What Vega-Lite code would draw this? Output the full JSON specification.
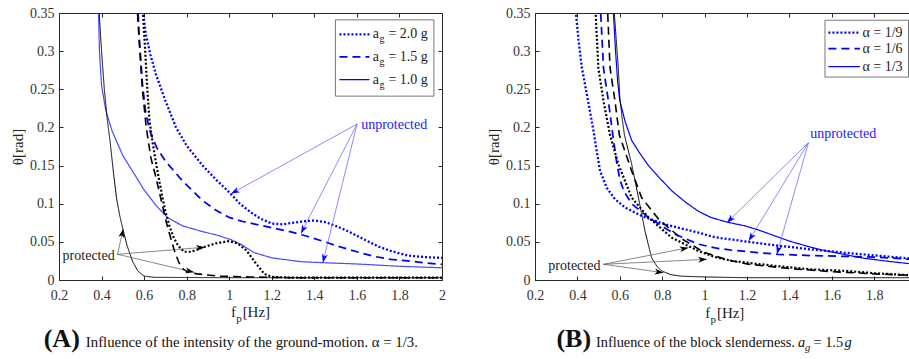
{
  "$schema": "https://vega.github.io/schema/vega-lite/v6.json",
  "padding": {"left": 10, "top": 6, "right": 0, "bottom": 0},
  "spacing": 40,
  "config": {
    "font": "Liberation Serif",
    "view": {"stroke": null},
    "text": {"font": "Liberation Serif"},
    "axis": {
      "labelFont": "Liberation Serif", "labelFontSize": 14, "labelColor": "#333333",
      "titleFont": "Liberation Serif", "titleFontSize": 15, "titleFontWeight": "normal", "titleColor": "#222222",
      "domainColor": "#262626", "tickColor": "#262626", "domainWidth": 1, "tickWidth": 1,
      "tickSize": -4, "grid": false, "labelFlush": false, "labelOverlap": false
    }
  },
  "datasets": {
    "curvesA": [
      {"f":0.588,"theta":0.40,"series":"2.0 g","state":"unprotected"},
      {"f":0.595,"theta":0.35,"series":"2.0 g","state":"unprotected"},
      {"f":0.608,"theta":0.322,"series":"2.0 g","state":"unprotected"},
      {"f":0.63,"theta":0.295,"series":"2.0 g","state":"unprotected"},
      {"f":0.655,"theta":0.27,"series":"2.0 g","state":"unprotected"},
      {"f":0.70,"theta":0.235,"series":"2.0 g","state":"unprotected"},
      {"f":0.75,"theta":0.20,"series":"2.0 g","state":"unprotected"},
      {"f":0.80,"theta":0.176,"series":"2.0 g","state":"unprotected"},
      {"f":0.875,"theta":0.150,"series":"2.0 g","state":"unprotected"},
      {"f":0.94,"theta":0.131,"series":"2.0 g","state":"unprotected"},
      {"f":1.0,"theta":0.115,"series":"2.0 g","state":"unprotected"},
      {"f":1.05,"theta":0.100,"series":"2.0 g","state":"unprotected"},
      {"f":1.1,"theta":0.089,"series":"2.0 g","state":"unprotected"},
      {"f":1.15,"theta":0.080,"series":"2.0 g","state":"unprotected"},
      {"f":1.2,"theta":0.074,"series":"2.0 g","state":"unprotected"},
      {"f":1.25,"theta":0.073,"series":"2.0 g","state":"unprotected"},
      {"f":1.3,"theta":0.075,"series":"2.0 g","state":"unprotected"},
      {"f":1.35,"theta":0.077,"series":"2.0 g","state":"unprotected"},
      {"f":1.4,"theta":0.078,"series":"2.0 g","state":"unprotected"},
      {"f":1.45,"theta":0.076,"series":"2.0 g","state":"unprotected"},
      {"f":1.5,"theta":0.071,"series":"2.0 g","state":"unprotected"},
      {"f":1.55,"theta":0.065,"series":"2.0 g","state":"unprotected"},
      {"f":1.6,"theta":0.058,"series":"2.0 g","state":"unprotected"},
      {"f":1.65,"theta":0.051,"series":"2.0 g","state":"unprotected"},
      {"f":1.7,"theta":0.044,"series":"2.0 g","state":"unprotected"},
      {"f":1.76,"theta":0.038,"series":"2.0 g","state":"unprotected"},
      {"f":1.84,"theta":0.032,"series":"2.0 g","state":"unprotected"},
      {"f":1.92,"theta":0.030,"series":"2.0 g","state":"unprotected"},
      {"f":2.0,"theta":0.029,"series":"2.0 g","state":"unprotected"},

      {"f":0.568,"theta":0.40,"series":"1.5 g","state":"unprotected"},
      {"f":0.572,"theta":0.35,"series":"1.5 g","state":"unprotected"},
      {"f":0.576,"theta":0.322,"series":"1.5 g","state":"unprotected"},
      {"f":0.584,"theta":0.29,"series":"1.5 g","state":"unprotected"},
      {"f":0.592,"theta":0.257,"series":"1.5 g","state":"unprotected"},
      {"f":0.608,"theta":0.218,"series":"1.5 g","state":"unprotected"},
      {"f":0.63,"theta":0.193,"series":"1.5 g","state":"unprotected"},
      {"f":0.66,"theta":0.173,"series":"1.5 g","state":"unprotected"},
      {"f":0.70,"theta":0.156,"series":"1.5 g","state":"unprotected"},
      {"f":0.78,"theta":0.130,"series":"1.5 g","state":"unprotected"},
      {"f":0.875,"theta":0.104,"series":"1.5 g","state":"unprotected"},
      {"f":0.94,"theta":0.091,"series":"1.5 g","state":"unprotected"},
      {"f":1.0,"theta":0.082,"series":"1.5 g","state":"unprotected"},
      {"f":1.06,"theta":0.077,"series":"1.5 g","state":"unprotected"},
      {"f":1.125,"theta":0.073,"series":"1.5 g","state":"unprotected"},
      {"f":1.21,"theta":0.068,"series":"1.5 g","state":"unprotected"},
      {"f":1.29,"theta":0.063,"series":"1.5 g","state":"unprotected"},
      {"f":1.37,"theta":0.057,"series":"1.5 g","state":"unprotected"},
      {"f":1.45,"theta":0.050,"series":"1.5 g","state":"unprotected"},
      {"f":1.525,"theta":0.043,"series":"1.5 g","state":"unprotected"},
      {"f":1.6,"theta":0.037,"series":"1.5 g","state":"unprotected"},
      {"f":1.68,"theta":0.031,"series":"1.5 g","state":"unprotected"},
      {"f":1.76,"theta":0.027,"series":"1.5 g","state":"unprotected"},
      {"f":1.84,"theta":0.025,"series":"1.5 g","state":"unprotected"},
      {"f":1.92,"theta":0.0225,"series":"1.5 g","state":"unprotected"},
      {"f":2.0,"theta":0.0205,"series":"1.5 g","state":"unprotected"},

      {"f":0.383,"theta":0.40,"series":"1.0 g","state":"unprotected"},
      {"f":0.386,"theta":0.35,"series":"1.0 g","state":"unprotected"},
      {"f":0.39,"theta":0.30,"series":"1.0 g","state":"unprotected"},
      {"f":0.40,"theta":0.255,"series":"1.0 g","state":"unprotected"},
      {"f":0.42,"theta":0.222,"series":"1.0 g","state":"unprotected"},
      {"f":0.45,"theta":0.195,"series":"1.0 g","state":"unprotected"},
      {"f":0.50,"theta":0.163,"series":"1.0 g","state":"unprotected"},
      {"f":0.545,"theta":0.143,"series":"1.0 g","state":"unprotected"},
      {"f":0.60,"theta":0.118,"series":"1.0 g","state":"unprotected"},
      {"f":0.655,"theta":0.098,"series":"1.0 g","state":"unprotected"},
      {"f":0.71,"theta":0.082,"series":"1.0 g","state":"unprotected"},
      {"f":0.78,"theta":0.071,"series":"1.0 g","state":"unprotected"},
      {"f":0.867,"theta":0.064,"series":"1.0 g","state":"unprotected"},
      {"f":0.94,"theta":0.059,"series":"1.0 g","state":"unprotected"},
      {"f":1.007,"theta":0.053,"series":"1.0 g","state":"unprotected"},
      {"f":1.06,"theta":0.046,"series":"1.0 g","state":"unprotected"},
      {"f":1.116,"theta":0.036,"series":"1.0 g","state":"unprotected"},
      {"f":1.2,"theta":0.029,"series":"1.0 g","state":"unprotected"},
      {"f":1.337,"theta":0.024,"series":"1.0 g","state":"unprotected"},
      {"f":1.44,"theta":0.0227,"series":"1.0 g","state":"unprotected"},
      {"f":1.6,"theta":0.021,"series":"1.0 g","state":"unprotected"},
      {"f":1.8,"theta":0.018,"series":"1.0 g","state":"unprotected"},
      {"f":2.0,"theta":0.016,"series":"1.0 g","state":"unprotected"},

      {"f":0.592,"theta":0.40,"series":"2.0 g","state":"protected"},
      {"f":0.595,"theta":0.35,"series":"2.0 g","state":"protected"},
      {"f":0.605,"theta":0.30,"series":"2.0 g","state":"protected"},
      {"f":0.615,"theta":0.25,"series":"2.0 g","state":"protected"},
      {"f":0.625,"theta":0.21,"series":"2.0 g","state":"protected"},
      {"f":0.64,"theta":0.18,"series":"2.0 g","state":"protected"},
      {"f":0.655,"theta":0.155,"series":"2.0 g","state":"protected"},
      {"f":0.67,"theta":0.132,"series":"2.0 g","state":"protected"},
      {"f":0.685,"theta":0.11,"series":"2.0 g","state":"protected"},
      {"f":0.70,"theta":0.09,"series":"2.0 g","state":"protected"},
      {"f":0.72,"theta":0.07,"series":"2.0 g","state":"protected"},
      {"f":0.74,"theta":0.055,"series":"2.0 g","state":"protected"},
      {"f":0.76,"theta":0.045,"series":"2.0 g","state":"protected"},
      {"f":0.788,"theta":0.037,"series":"2.0 g","state":"protected"},
      {"f":0.82,"theta":0.037,"series":"2.0 g","state":"protected"},
      {"f":0.85,"theta":0.040,"series":"2.0 g","state":"protected"},
      {"f":0.89,"theta":0.044,"series":"2.0 g","state":"protected"},
      {"f":0.937,"theta":0.048,"series":"2.0 g","state":"protected"},
      {"f":1.0,"theta":0.051,"series":"2.0 g","state":"protected"},
      {"f":1.04,"theta":0.048,"series":"2.0 g","state":"protected"},
      {"f":1.08,"theta":0.039,"series":"2.0 g","state":"protected"},
      {"f":1.125,"theta":0.022,"series":"2.0 g","state":"protected"},
      {"f":1.165,"theta":0.008,"series":"2.0 g","state":"protected"},
      {"f":1.2,"theta":0.004,"series":"2.0 g","state":"protected"},
      {"f":1.3,"theta":0.003,"series":"2.0 g","state":"protected"},
      {"f":2.0,"theta":0.003,"series":"2.0 g","state":"protected"},

      {"f":0.566,"theta":0.40,"series":"1.5 g","state":"protected"},
      {"f":0.569,"theta":0.35,"series":"1.5 g","state":"protected"},
      {"f":0.58,"theta":0.30,"series":"1.5 g","state":"protected"},
      {"f":0.592,"theta":0.25,"series":"1.5 g","state":"protected"},
      {"f":0.61,"theta":0.20,"series":"1.5 g","state":"protected"},
      {"f":0.632,"theta":0.16,"series":"1.5 g","state":"protected"},
      {"f":0.655,"theta":0.135,"series":"1.5 g","state":"protected"},
      {"f":0.68,"theta":0.105,"series":"1.5 g","state":"protected"},
      {"f":0.705,"theta":0.075,"series":"1.5 g","state":"protected"},
      {"f":0.725,"theta":0.055,"series":"1.5 g","state":"protected"},
      {"f":0.745,"theta":0.036,"series":"1.5 g","state":"protected"},
      {"f":0.765,"theta":0.022,"series":"1.5 g","state":"protected"},
      {"f":0.785,"theta":0.014,"series":"1.5 g","state":"protected"},
      {"f":0.81,"theta":0.010,"series":"1.5 g","state":"protected"},
      {"f":0.85,"theta":0.008,"series":"1.5 g","state":"protected"},
      {"f":0.95,"theta":0.005,"series":"1.5 g","state":"protected"},
      {"f":1.1,"theta":0.004,"series":"1.5 g","state":"protected"},
      {"f":1.3,"theta":0.003,"series":"1.5 g","state":"protected"},
      {"f":2.0,"theta":0.003,"series":"1.5 g","state":"protected"},

      {"f":0.385,"theta":0.40,"series":"1.0 g","state":"protected"},
      {"f":0.389,"theta":0.35,"series":"1.0 g","state":"protected"},
      {"f":0.40,"theta":0.30,"series":"1.0 g","state":"protected"},
      {"f":0.413,"theta":0.25,"series":"1.0 g","state":"protected"},
      {"f":0.427,"theta":0.21,"series":"1.0 g","state":"protected"},
      {"f":0.44,"theta":0.182,"series":"1.0 g","state":"protected"},
      {"f":0.455,"theta":0.143,"series":"1.0 g","state":"protected"},
      {"f":0.47,"theta":0.108,"series":"1.0 g","state":"protected"},
      {"f":0.485,"theta":0.085,"series":"1.0 g","state":"protected"},
      {"f":0.50,"theta":0.067,"series":"1.0 g","state":"protected"},
      {"f":0.52,"theta":0.045,"series":"1.0 g","state":"protected"},
      {"f":0.545,"theta":0.025,"series":"1.0 g","state":"protected"},
      {"f":0.57,"theta":0.012,"series":"1.0 g","state":"protected"},
      {"f":0.60,"theta":0.005,"series":"1.0 g","state":"protected"},
      {"f":0.65,"theta":0.0035,"series":"1.0 g","state":"protected"},
      {"f":1.0,"theta":0.003,"series":"1.0 g","state":"protected"},
      {"f":2.0,"theta":0.003,"series":"1.0 g","state":"protected"}
    ],
    "curvesB": [
      {"f":0.39,"theta":0.40,"series":"1/9","state":"unprotected"},
      {"f":0.393,"theta":0.35,"series":"1/9","state":"unprotected"},
      {"f":0.405,"theta":0.315,"series":"1/9","state":"unprotected"},
      {"f":0.42,"theta":0.28,"series":"1/9","state":"unprotected"},
      {"f":0.44,"theta":0.25,"series":"1/9","state":"unprotected"},
      {"f":0.46,"theta":0.22,"series":"1/9","state":"unprotected"},
      {"f":0.475,"theta":0.197,"series":"1/9","state":"unprotected"},
      {"f":0.491,"theta":0.169,"series":"1/9","state":"unprotected"},
      {"f":0.507,"theta":0.143,"series":"1/9","state":"unprotected"},
      {"f":0.538,"theta":0.121,"series":"1/9","state":"unprotected"},
      {"f":0.577,"theta":0.106,"series":"1/9","state":"unprotected"},
      {"f":0.625,"theta":0.095,"series":"1/9","state":"unprotected"},
      {"f":0.703,"theta":0.084,"series":"1/9","state":"unprotected"},
      {"f":0.813,"theta":0.073,"series":"1/9","state":"unprotected"},
      {"f":0.971,"theta":0.062,"series":"1/9","state":"unprotected"},
      {"f":1.05,"theta":0.056,"series":"1/9","state":"unprotected"},
      {"f":1.207,"theta":0.050,"series":"1/9","state":"unprotected"},
      {"f":1.35,"theta":0.045,"series":"1/9","state":"unprotected"},
      {"f":1.505,"theta":0.040,"series":"1/9","state":"unprotected"},
      {"f":1.74,"theta":0.0337,"series":"1/9","state":"unprotected"},
      {"f":1.98,"theta":0.028,"series":"1/9","state":"unprotected"},

      {"f":0.507,"theta":0.40,"series":"1/6","state":"unprotected"},
      {"f":0.51,"theta":0.35,"series":"1/6","state":"unprotected"},
      {"f":0.523,"theta":0.278,"series":"1/6","state":"unprotected"},
      {"f":0.546,"theta":0.235,"series":"1/6","state":"unprotected"},
      {"f":0.57,"theta":0.184,"series":"1/6","state":"unprotected"},
      {"f":0.585,"theta":0.155,"series":"1/6","state":"unprotected"},
      {"f":0.60,"theta":0.132,"series":"1/6","state":"unprotected"},
      {"f":0.62,"theta":0.116,"series":"1/6","state":"unprotected"},
      {"f":0.656,"theta":0.100,"series":"1/6","state":"unprotected"},
      {"f":0.735,"theta":0.082,"series":"1/6","state":"unprotected"},
      {"f":0.86,"theta":0.060,"series":"1/6","state":"unprotected"},
      {"f":0.971,"theta":0.047,"series":"1/6","state":"unprotected"},
      {"f":1.05,"theta":0.042,"series":"1/6","state":"unprotected"},
      {"f":1.13,"theta":0.039,"series":"1/6","state":"unprotected"},
      {"f":1.25,"theta":0.036,"series":"1/6","state":"unprotected"},
      {"f":1.348,"theta":0.0337,"series":"1/6","state":"unprotected"},
      {"f":1.5,"theta":0.032,"series":"1/6","state":"unprotected"},
      {"f":1.66,"theta":0.031,"series":"1/6","state":"unprotected"},
      {"f":1.8,"theta":0.030,"series":"1/6","state":"unprotected"},
      {"f":1.98,"theta":0.027,"series":"1/6","state":"unprotected"},

      {"f":0.567,"theta":0.40,"series":"1/3","state":"unprotected"},
      {"f":0.57,"theta":0.35,"series":"1/3","state":"unprotected"},
      {"f":0.58,"theta":0.30,"series":"1/3","state":"unprotected"},
      {"f":0.59,"theta":0.26,"series":"1/3","state":"unprotected"},
      {"f":0.60,"theta":0.235,"series":"1/3","state":"unprotected"},
      {"f":0.625,"theta":0.208,"series":"1/3","state":"unprotected"},
      {"f":0.656,"theta":0.183,"series":"1/3","state":"unprotected"},
      {"f":0.69,"theta":0.168,"series":"1/3","state":"unprotected"},
      {"f":0.735,"theta":0.150,"series":"1/3","state":"unprotected"},
      {"f":0.79,"theta":0.133,"series":"1/3","state":"unprotected"},
      {"f":0.845,"theta":0.117,"series":"1/3","state":"unprotected"},
      {"f":0.91,"theta":0.102,"series":"1/3","state":"unprotected"},
      {"f":0.971,"theta":0.090,"series":"1/3","state":"unprotected"},
      {"f":1.03,"theta":0.082,"series":"1/3","state":"unprotected"},
      {"f":1.104,"theta":0.076,"series":"1/3","state":"unprotected"},
      {"f":1.19,"theta":0.071,"series":"1/3","state":"unprotected"},
      {"f":1.25,"theta":0.066,"series":"1/3","state":"unprotected"},
      {"f":1.35,"theta":0.056,"series":"1/3","state":"unprotected"},
      {"f":1.4,"theta":0.051,"series":"1/3","state":"unprotected"},
      {"f":1.5,"theta":0.043,"series":"1/3","state":"unprotected"},
      {"f":1.56,"theta":0.039,"series":"1/3","state":"unprotected"},
      {"f":1.65,"theta":0.034,"series":"1/3","state":"unprotected"},
      {"f":1.74,"theta":0.029,"series":"1/3","state":"unprotected"},
      {"f":1.85,"theta":0.025,"series":"1/3","state":"unprotected"},
      {"f":1.98,"theta":0.021,"series":"1/3","state":"unprotected"},

      {"f":0.483,"theta":0.40,"series":"1/9","state":"protected"},
      {"f":0.486,"theta":0.35,"series":"1/9","state":"protected"},
      {"f":0.499,"theta":0.278,"series":"1/9","state":"protected"},
      {"f":0.523,"theta":0.235,"series":"1/9","state":"protected"},
      {"f":0.554,"theta":0.19,"series":"1/9","state":"protected"},
      {"f":0.593,"theta":0.152,"series":"1/9","state":"protected"},
      {"f":0.656,"theta":0.108,"series":"1/9","state":"protected"},
      {"f":0.735,"theta":0.082,"series":"1/9","state":"protected"},
      {"f":0.845,"theta":0.0555,"series":"1/9","state":"protected"},
      {"f":0.971,"theta":0.038,"series":"1/9","state":"protected"},
      {"f":1.05,"theta":0.030,"series":"1/9","state":"protected"},
      {"f":1.128,"theta":0.025,"series":"1/9","state":"protected"},
      {"f":1.348,"theta":0.018,"series":"1/9","state":"protected"},
      {"f":1.5,"theta":0.014,"series":"1/9","state":"protected"},
      {"f":1.662,"theta":0.012,"series":"1/9","state":"protected"},
      {"f":1.8,"theta":0.009,"series":"1/9","state":"protected"},
      {"f":1.98,"theta":0.006,"series":"1/9","state":"protected"},

      {"f":0.540,"theta":0.40,"series":"1/6","state":"protected"},
      {"f":0.543,"theta":0.35,"series":"1/6","state":"protected"},
      {"f":0.554,"theta":0.278,"series":"1/6","state":"protected"},
      {"f":0.577,"theta":0.235,"series":"1/6","state":"protected"},
      {"f":0.598,"theta":0.19,"series":"1/6","state":"protected"},
      {"f":0.656,"theta":0.143,"series":"1/6","state":"protected"},
      {"f":0.703,"theta":0.108,"series":"1/6","state":"protected"},
      {"f":0.782,"theta":0.080,"series":"1/6","state":"protected"},
      {"f":0.892,"theta":0.054,"series":"1/6","state":"protected"},
      {"f":1.0,"theta":0.036,"series":"1/6","state":"protected"},
      {"f":1.1,"theta":0.027,"series":"1/6","state":"protected"},
      {"f":1.2,"theta":0.021,"series":"1/6","state":"protected"},
      {"f":1.4,"theta":0.015,"series":"1/6","state":"protected"},
      {"f":1.6,"theta":0.011,"series":"1/6","state":"protected"},
      {"f":1.8,"theta":0.008,"series":"1/6","state":"protected"},
      {"f":1.98,"theta":0.006,"series":"1/6","state":"protected"},

      {"f":0.571,"theta":0.40,"series":"1/3","state":"protected"},
      {"f":0.574,"theta":0.35,"series":"1/3","state":"protected"},
      {"f":0.593,"theta":0.278,"series":"1/3","state":"protected"},
      {"f":0.60,"theta":0.24,"series":"1/3","state":"protected"},
      {"f":0.612,"theta":0.21,"series":"1/3","state":"protected"},
      {"f":0.622,"theta":0.19,"series":"1/3","state":"protected"},
      {"f":0.656,"theta":0.152,"series":"1/3","state":"protected"},
      {"f":0.688,"theta":0.108,"series":"1/3","state":"protected"},
      {"f":0.719,"theta":0.064,"series":"1/3","state":"protected"},
      {"f":0.75,"theta":0.029,"series":"1/3","state":"protected"},
      {"f":0.775,"theta":0.018,"series":"1/3","state":"protected"},
      {"f":0.797,"theta":0.012,"series":"1/3","state":"protected"},
      {"f":0.84,"theta":0.007,"series":"1/3","state":"protected"},
      {"f":0.892,"theta":0.005,"series":"1/3","state":"protected"},
      {"f":1.0,"theta":0.004,"series":"1/3","state":"protected"},
      {"f":1.2,"theta":0.003,"series":"1/3","state":"protected"},
      {"f":1.98,"theta":0.003,"series":"1/3","state":"protected"}
    ],
    "arrowsA": [
      {"ox":1.601,"oy":0.2045,"tx":1.008,"ty":0.113,"state":"unprotected"},
      {"ox":1.601,"oy":0.2045,"tx":1.337,"ty":0.061,"state":"unprotected"},
      {"ox":1.601,"oy":0.2045,"tx":1.44,"ty":0.0227,"state":"unprotected"},
      {"ox":0.475,"oy":0.0337,"tx":0.502,"ty":0.067,"state":"protected"},
      {"ox":0.475,"oy":0.0337,"tx":0.886,"ty":0.043,"state":"protected"},
      {"ox":0.475,"oy":0.0337,"tx":0.835,"ty":0.010,"state":"protected"}
    ],
    "arrowsB": [
      {"ox":1.49,"oy":0.180,"tx":1.105,"ty":0.0751,"state":"unprotected"},
      {"ox":1.49,"oy":0.180,"tx":1.208,"ty":0.0511,"state":"unprotected"},
      {"ox":1.49,"oy":0.180,"tx":1.341,"ty":0.0337,"state":"unprotected"},
      {"ox":0.523,"oy":0.0206,"tx":0.924,"ty":0.0423,"state":"protected"},
      {"ox":0.523,"oy":0.0206,"tx":1.011,"ty":0.0271,"state":"protected"},
      {"ox":0.523,"oy":0.0206,"tx":0.806,"ty":0.0096,"state":"protected"}
    ],
    "labelsA": [
      {"x":1.62,"y":0.198,"text":"unprotected","state":"unprotected"},
      {"x":0.217,"y":0.0258,"text":"protected","state":"protected"}
    ],
    "labelsB": [
      {"x":1.498,"y":0.186,"text":"unprotected","state":"unprotected"},
      {"x":0.263,"y":0.0131,"text":"protected","state":"protected"}
    ],
    "legendA": [
      {"series":"2.0 g","y":0.322,"value":"= 2.0 g"},
      {"series":"1.5 g","y":0.2924,"value":"= 1.5 g"},
      {"series":"1.0 g","y":0.2626,"value":"= 1.0 g"}
    ],
    "legendB": [
      {"series":"1/9","y":0.3242,"label":"α = 1/9"},
      {"series":"1/6","y":0.3032,"label":"α = 1/6"},
      {"series":"1/3","y":0.2796,"label":"α = 1/3"}
    ]
  },
  "hconcat": [
    {
      "width": 383,
      "height": 267,
      "resolve": {"scale": {"color": "independent", "strokeWidth": "independent"}, "axis": {"x": "independent", "y": "independent"}},
      "layer": [
        {
          "data": {"name": "curvesA"},
          "transform": [{"filter": "datum.state === 'unprotected'"}],
          "mark": {"type": "line", "clip": true},
          "encoding": {
            "x": {"field": "f", "type": "quantitative", "scale": {"domain": [0.2, 2], "nice": false, "zero": false},
                  "axis": {"orient": "bottom", "values": [0.2,0.4,0.6,0.8,1,1.2,1.4,1.6,1.8,2], "format": "~g", "labelPadding": 12, "title": null,
                           "labelFont": "Liberation Serif", "labelFontSize": 14, "labelColor": "#333333"}},
            "y": {"field": "theta", "type": "quantitative", "scale": {"domain": [0, 0.35], "nice": false, "zero": false},
                  "axis": {"orient": "left", "values": [0,0.05,0.1,0.15,0.2,0.25,0.3,0.35], "format": "~g", "labelPadding": 9, "title": "θ[rad]", "titlePadding": 4,
                           "labelFont": "Liberation Serif", "labelFontSize": 14, "labelColor": "#333333", "titleFont": "Liberation Serif", "titleFontSize": 15, "titleFontWeight": "normal"}},
            "color": {"field": "series", "type": "nominal", "scale": {"domain": ["2.0 g","1.5 g","1.0 g"], "range": ["#0000ff","#0000ff","#4a4aff"]}, "legend": null},
            "strokeDash": {"field": "series", "type": "nominal", "scale": {"domain": ["2.0 g","1.5 g","1.0 g"], "range": [[2,2],[8,5],[1,0]]}, "legend": null},
            "strokeWidth": {"field": "series", "type": "nominal", "scale": {"domain": ["2.0 g","1.5 g","1.0 g"], "range": [2.3,1.2,0.8]}, "legend": null}
          }
        },
        {
          "data": {"name": "curvesA"},
          "transform": [{"filter": "datum.state === 'protected'"}],
          "mark": {"type": "line", "clip": true, "color": "#000000"},
          "encoding": {
            "x": {"field": "f", "type": "quantitative", "scale": {"domain": [0.2, 2], "nice": false, "zero": false},
                  "axis": {"orient": "top", "values": [0.2,0.4,0.6,0.8,1,1.2,1.4,1.6,1.8,2], "labels": false, "title": null}},
            "y": {"field": "theta", "type": "quantitative", "scale": {"domain": [0, 0.35], "nice": false, "zero": false},
                  "axis": {"orient": "right", "values": [0,0.05,0.1,0.15,0.2,0.25,0.3,0.35], "labels": false, "title": null}},
            "strokeDash": {"field": "series", "type": "nominal", "scale": {"domain": ["2.0 g","1.5 g","1.0 g"], "range": [[2,2],[8,5],[1,0]]}, "legend": null},
            "strokeWidth": {"field": "series", "type": "nominal", "scale": {"domain": ["2.0 g","1.5 g","1.0 g"], "range": [2.2,1.0,1.0]}, "legend": null}
          }
        },
        {
          "data": {"name": "arrowsA"},
          "mark": {"type": "rule", "strokeWidth": 0.7},
          "encoding": {
            "x": {"field": "ox", "type": "quantitative", "axis": null},
            "y": {"field": "oy", "type": "quantitative", "axis": null},
            "x2": {"field": "tx"},
            "y2": {"field": "ty"},
            "color": {"field": "state", "type": "nominal", "scale": {"domain": ["unprotected","protected"], "range": ["#5c5cff","#555555"]}, "legend": null}
          }
        },
        {
          "data": {"name": "arrowsA"},
          "transform": [{"calculate": "atan2(-(datum.ty - datum.oy) * 762.9, (datum.tx - datum.ox) * 212.5) * 180 / PI", "as": "ang"}],
          "mark": {"type": "point", "filled": true, "size": 64, "strokeWidth": 0, "opacity": 1, "shape": "M0,0L-2.2,-0.75L-1.6,0L-2.2,0.75Z"},
          "encoding": {
            "x": {"field": "tx", "type": "quantitative", "axis": null},
            "y": {"field": "ty", "type": "quantitative", "axis": null},
            "angle": {"field": "ang", "type": "quantitative", "scale": null},
            "color": {"field": "state", "type": "nominal", "scale": {"domain": ["unprotected","protected"], "range": ["#0000ff","#000000"]}, "legend": null}
          }
        },
        {
          "data": {"name": "labelsA"},
          "mark": {"type": "text", "align": "left", "baseline": "alphabetic", "fontSize": 14, "font": "Liberation Serif"},
          "encoding": {
            "x": {"field": "x", "type": "quantitative", "axis": null},
            "y": {"field": "y", "type": "quantitative", "axis": null},
            "text": {"field": "text"},
            "color": {"field": "state", "type": "nominal", "scale": {"domain": ["unprotected","protected"], "range": ["#1a1aff","#222222"]}, "legend": null}
          }
        },
        {
          "data": {"values": [{"item": "legend box"}]},
          "mark": {"type": "rect", "fill": "#ffffff", "stroke": "#555555", "strokeWidth": 0.8},
          "encoding": {
            "x": {"datum": 1.499, "type": "quantitative", "axis": null},
            "x2": {"datum": 1.962},
            "y": {"datum": 0.241, "type": "quantitative", "axis": null},
            "y2": {"datum": 0.341}
          }
        },
        {
          "data": {"name": "legendA"},
          "mark": {"type": "rule", "color": "#0000ff"},
          "encoding": {
            "x": {"datum": 1.518, "type": "quantitative", "axis": null},
            "x2": {"datum": 1.659},
            "y": {"field": "y", "type": "quantitative", "axis": null},
            "strokeDash": {"field": "series", "type": "nominal", "scale": {"domain": ["2.0 g","1.5 g","1.0 g"], "range": [[2,2],[8,5],[1,0]]}, "legend": null},
            "strokeWidth": {"field": "series", "type": "nominal", "scale": {"domain": ["2.0 g","1.5 g","1.0 g"], "range": [2.3,1.2,1.0]}, "legend": null}
          }
        },
        {
          "data": {"name": "legendA"},
          "mark": {"type": "text", "align": "left", "baseline": "alphabetic", "fontSize": 14, "dx": 3.4, "dy": 4, "color": "#222222", "text": "a"},
          "encoding": {
            "x": {"datum": 1.659, "type": "quantitative", "axis": null},
            "y": {"field": "y", "type": "quantitative", "axis": null}
          }
        },
        {
          "data": {"name": "legendA"},
          "mark": {"type": "text", "align": "left", "baseline": "alphabetic", "fontSize": 10, "dx": 10, "dy": 8, "color": "#222222", "text": "g"},
          "encoding": {
            "x": {"datum": 1.659, "type": "quantitative", "axis": null},
            "y": {"field": "y", "type": "quantitative", "axis": null}
          }
        },
        {
          "data": {"name": "legendA"},
          "mark": {"type": "text", "align": "left", "baseline": "alphabetic", "fontSize": 14, "dx": 19, "dy": 4, "color": "#222222"},
          "encoding": {
            "x": {"datum": 1.659, "type": "quantitative", "axis": null},
            "y": {"field": "y", "type": "quantitative", "axis": null},
            "text": {"field": "value"}
          }
        },
        {
          "data": {"values": [{"text": "f"}]},
          "mark": {"type": "text", "align": "left", "baseline": "alphabetic", "fontSize": 15, "dx": -11.7, "color": "#222222"},
          "encoding": {
            "x": {"datum": 1.063, "type": "quantitative", "axis": null},
            "y": {"datum": -0.0485, "type": "quantitative", "axis": null},
            "text": {"field": "text"}
          }
        },
        {
          "data": {"values": [{"text": "p"}]},
          "mark": {"type": "text", "align": "left", "baseline": "alphabetic", "fontSize": 11, "dx": -6.5, "dy": 5, "color": "#222222"},
          "encoding": {
            "x": {"datum": 1.063, "type": "quantitative", "axis": null},
            "y": {"datum": -0.0485, "type": "quantitative", "axis": null},
            "text": {"field": "text"}
          }
        },
        {
          "data": {"values": [{"text": "[Hz]"}]},
          "mark": {"type": "text", "align": "left", "baseline": "alphabetic", "fontSize": 15, "color": "#222222"},
          "encoding": {
            "x": {"datum": 1.063, "type": "quantitative", "axis": null},
            "y": {"datum": -0.0485, "type": "quantitative", "axis": null},
            "text": {"field": "text"}
          }
        },
        {
          "data": {"values": [{"text": "(A)"}]},
          "mark": {"type": "text", "align": "right", "baseline": "alphabetic", "fontSize": 26, "fontWeight": "bold", "dx": -6, "color": "#111111"},
          "encoding": {
            "x": {"datum": 0.326, "type": "quantitative", "axis": null},
            "y": {"datum": -0.088, "type": "quantitative", "axis": null},
            "text": {"field": "text"}
          }
        },
        {
          "data": {"values": [{"text": "Influence of the intensity of the ground-motion. α = 1/3."}]},
          "mark": {"type": "text", "align": "left", "baseline": "alphabetic", "fontSize": 14.8, "color": "#111111"},
          "encoding": {
            "x": {"datum": 0.326, "type": "quantitative", "axis": null},
            "y": {"datum": -0.088, "type": "quantitative", "axis": null},
            "text": {"field": "text"}
          }
        }
      ]
    },
    {
      "width": 375,
      "height": 267,
      "resolve": {"scale": {"color": "independent", "strokeWidth": "independent"}, "axis": {"x": "independent", "y": "independent"}},
      "layer": [
        {
          "data": {"name": "curvesB"},
          "transform": [{"filter": "datum.state === 'unprotected'"}],
          "mark": {"type": "line", "clip": true, "color": "#0000ff"},
          "encoding": {
            "x": {"field": "f", "type": "quantitative", "scale": {"domain": [0.2, 1.969], "nice": false, "zero": false},
                  "axis": {"orient": "bottom", "values": [0.2,0.4,0.6,0.8,1,1.2,1.4,1.6,1.8], "format": "~g", "labelPadding": 12, "title": null,
                           "labelFont": "Liberation Serif", "labelFontSize": 14, "labelColor": "#333333"}},
            "y": {"field": "theta", "type": "quantitative", "scale": {"domain": [0, 0.35], "nice": false, "zero": false},
                  "axis": {"orient": "left", "values": [0,0.05,0.1,0.15,0.2,0.25,0.3,0.35], "format": "~g", "labelPadding": 9, "title": "θ[rad]", "titlePadding": 4,
                           "labelFont": "Liberation Serif", "labelFontSize": 14, "labelColor": "#333333", "titleFont": "Liberation Serif", "titleFontSize": 15, "titleFontWeight": "normal"}},
            "strokeDash": {"field": "series", "type": "nominal", "scale": {"domain": ["1/9","1/6","1/3"], "range": [[2,2],[8,5],[1,0]]}, "legend": null},
            "strokeWidth": {"field": "series", "type": "nominal", "scale": {"domain": ["1/9","1/6","1/3"], "range": [2.3,1.2,1.2]}, "legend": null}
          }
        },
        {
          "data": {"name": "curvesB"},
          "transform": [{"filter": "datum.state === 'protected'"}],
          "mark": {"type": "line", "clip": true, "color": "#000000"},
          "encoding": {
            "x": {"field": "f", "type": "quantitative", "scale": {"domain": [0.2, 1.969], "nice": false, "zero": false},
                  "axis": {"orient": "top", "values": [0.2,0.4,0.6,0.8,1,1.2,1.4,1.6,1.8], "labels": false, "title": null}},
            "y": {"field": "theta", "type": "quantitative", "scale": {"domain": [0, 0.35], "nice": false, "zero": false}, "axis": null},
            "strokeDash": {"field": "series", "type": "nominal", "scale": {"domain": ["1/9","1/6","1/3"], "range": [[2,2],[8,5],[1,0]]}, "legend": null},
            "strokeWidth": {"field": "series", "type": "nominal", "scale": {"domain": ["1/9","1/6","1/3"], "range": [2.2,1.0,1.0]}, "legend": null}
          }
        },
        {
          "data": {"name": "arrowsB"},
          "mark": {"type": "rule", "strokeWidth": 0.7},
          "encoding": {
            "x": {"field": "ox", "type": "quantitative", "axis": null},
            "y": {"field": "oy", "type": "quantitative", "axis": null},
            "x2": {"field": "tx"},
            "y2": {"field": "ty"},
            "color": {"field": "state", "type": "nominal", "scale": {"domain": ["unprotected","protected"], "range": ["#5c5cff","#555555"]}, "legend": null}
          }
        },
        {
          "data": {"name": "arrowsB"},
          "transform": [{"calculate": "atan2(-(datum.ty - datum.oy) * 762.9, (datum.tx - datum.ox) * 212.0) * 180 / PI", "as": "ang"}],
          "mark": {"type": "point", "filled": true, "size": 64, "strokeWidth": 0, "opacity": 1, "shape": "M0,0L-2.2,-0.75L-1.6,0L-2.2,0.75Z"},
          "encoding": {
            "x": {"field": "tx", "type": "quantitative", "axis": null},
            "y": {"field": "ty", "type": "quantitative", "axis": null},
            "angle": {"field": "ang", "type": "quantitative", "scale": null},
            "color": {"field": "state", "type": "nominal", "scale": {"domain": ["unprotected","protected"], "range": ["#0000ff","#000000"]}, "legend": null}
          }
        },
        {
          "data": {"name": "labelsB"},
          "mark": {"type": "text", "align": "left", "baseline": "alphabetic", "fontSize": 14, "font": "Liberation Serif"},
          "encoding": {
            "x": {"field": "x", "type": "quantitative", "axis": null},
            "y": {"field": "y", "type": "quantitative", "axis": null},
            "text": {"field": "text"},
            "color": {"field": "state", "type": "nominal", "scale": {"domain": ["unprotected","protected"], "range": ["#1a1aff","#222222"]}, "legend": null}
          }
        },
        {
          "data": {"values": [{"item": "legend box"}]},
          "mark": {"type": "rect", "fill": "#ffffff", "stroke": "#555555", "strokeWidth": 0.8},
          "encoding": {
            "x": {"datum": 1.568, "type": "quantitative", "axis": null},
            "x2": {"datum": 1.962},
            "y": {"datum": 0.266, "type": "quantitative", "axis": null},
            "y2": {"datum": 0.3405}
          }
        },
        {
          "data": {"name": "legendB"},
          "mark": {"type": "rule", "color": "#0000ff"},
          "encoding": {
            "x": {"datum": 1.584, "type": "quantitative", "axis": null},
            "x2": {"datum": 1.733},
            "y": {"field": "y", "type": "quantitative", "axis": null},
            "strokeDash": {"field": "series", "type": "nominal", "scale": {"domain": ["1/9","1/6","1/3"], "range": [[2,2],[8,5],[1,0]]}, "legend": null},
            "strokeWidth": {"field": "series", "type": "nominal", "scale": {"domain": ["1/9","1/6","1/3"], "range": [2.3,1.2,2.0]}, "legend": null}
          }
        },
        {
          "data": {"name": "legendB"},
          "mark": {"type": "text", "align": "left", "baseline": "alphabetic", "fontSize": 14, "dx": 2.5, "dy": 4, "color": "#222222"},
          "encoding": {
            "x": {"datum": 1.733, "type": "quantitative", "axis": null},
            "y": {"field": "y", "type": "quantitative", "axis": null},
            "text": {"field": "label"}
          }
        },
        {
          "data": {"values": [{"text": "f"}]},
          "mark": {"type": "text", "align": "left", "baseline": "alphabetic", "fontSize": 15, "dx": -11.7, "color": "#222222"},
          "encoding": {
            "x": {"datum": 1.058, "type": "quantitative", "axis": null},
            "y": {"datum": -0.0494, "type": "quantitative", "axis": null},
            "text": {"field": "text"}
          }
        },
        {
          "data": {"values": [{"text": "p"}]},
          "mark": {"type": "text", "align": "left", "baseline": "alphabetic", "fontSize": 11, "dx": -6.5, "dy": 5, "color": "#222222"},
          "encoding": {
            "x": {"datum": 1.058, "type": "quantitative", "axis": null},
            "y": {"datum": -0.0494, "type": "quantitative", "axis": null},
            "text": {"field": "text"}
          }
        },
        {
          "data": {"values": [{"text": "[Hz]"}]},
          "mark": {"type": "text", "align": "left", "baseline": "alphabetic", "fontSize": 15, "color": "#222222"},
          "encoding": {
            "x": {"datum": 1.058, "type": "quantitative", "axis": null},
            "y": {"datum": -0.0494, "type": "quantitative", "axis": null},
            "text": {"field": "text"}
          }
        },
        {
          "data": {"values": [{"text": "(B)"}]},
          "mark": {"type": "text", "align": "right", "baseline": "alphabetic", "fontSize": 26, "fontWeight": "bold", "dx": -5, "color": "#111111"},
          "encoding": {
            "x": {"datum": 0.488, "type": "quantitative", "axis": null},
            "y": {"datum": -0.088, "type": "quantitative", "axis": null},
            "text": {"field": "text"}
          }
        },
        {
          "data": {"values": [{"text": "Influence of the block slenderness."}]},
          "mark": {"type": "text", "align": "left", "baseline": "alphabetic", "fontSize": 14.3, "color": "#111111"},
          "encoding": {
            "x": {"datum": 0.488, "type": "quantitative", "axis": null},
            "y": {"datum": -0.088, "type": "quantitative", "axis": null},
            "text": {"field": "text"}
          }
        },
        {
          "data": {"values": [{"text": "a"}]},
          "mark": {"type": "text", "align": "left", "baseline": "alphabetic", "fontSize": 14.3, "fontStyle": "italic", "dx": 202, "color": "#111111"},
          "encoding": {
            "x": {"datum": 0.488, "type": "quantitative", "axis": null},
            "y": {"datum": -0.088, "type": "quantitative", "axis": null},
            "text": {"field": "text"}
          }
        },
        {
          "data": {"values": [{"text": "g"}]},
          "mark": {"type": "text", "align": "left", "baseline": "alphabetic", "fontSize": 10.5, "fontStyle": "italic", "dx": 209, "dy": 3.5, "color": "#111111"},
          "encoding": {
            "x": {"datum": 0.488, "type": "quantitative", "axis": null},
            "y": {"datum": -0.088, "type": "quantitative", "axis": null},
            "text": {"field": "text"}
          }
        },
        {
          "data": {"values": [{"text": "= 1.5"}]},
          "mark": {"type": "text", "align": "left", "baseline": "alphabetic", "fontSize": 14.3, "dx": 217.5, "color": "#111111"},
          "encoding": {
            "x": {"datum": 0.488, "type": "quantitative", "axis": null},
            "y": {"datum": -0.088, "type": "quantitative", "axis": null},
            "text": {"field": "text"}
          }
        },
        {
          "data": {"values": [{"text": "g"}]},
          "mark": {"type": "text", "align": "left", "baseline": "alphabetic", "fontSize": 14.3, "fontStyle": "italic", "dx": 248.5, "color": "#111111"},
          "encoding": {
            "x": {"datum": 0.488, "type": "quantitative", "axis": null},
            "y": {"datum": -0.088, "type": "quantitative", "axis": null},
            "text": {"field": "text"}
          }
        }
      ]
    }
  ]
}
